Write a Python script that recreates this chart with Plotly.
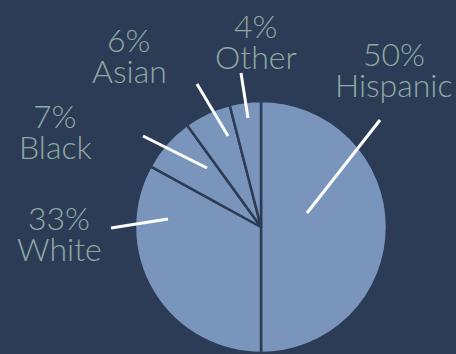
import plotly.graph_objects as go

# Population share by group, in clockwise order starting at 12 o'clock
groups = ["Hispanic", "White", "Black", "Asian", "Other"]
shares = [50, 33, 7, 6, 4]

W, H = 456, 354
BG = "#2d3c56"
SLICE = "#7a95bb"
TEXT = "#8eaaa4"


def px(x):
    return x / W


def py(y):
    return 1 - y / H


# Label placement (pixel centre x, baseline of the percent line) and leader lines
label_pos = {
    "Hispanic": (394, 66),
    "White": (59, 230),
    "Black": (55, 128),
    "Asian": (129, 52),
    "Other": (256, 38),
}
leaders = {
    "Hispanic": ((307, 213), (380, 120)),
    "White": ((111, 228), (168, 219)),
    "Black": ((143, 136), (207, 168)),
    "Asian": ((197, 84), (228, 136)),
    "Other": ((241, 73), (248, 118)),
}

cx, cy, r = 261, 227, 126

fig = go.Figure(
    go.Pie(
        labels=groups,
        values=shares,
        sort=False,
        direction="clockwise",
        rotation=0,
        textinfo="none",
        hoverinfo="label+percent",
        marker=dict(colors=[SLICE] * len(groups), line=dict(color=BG, width=2.5)),
        domain=dict(x=[px(cx - r), px(cx + r)], y=[py(cy + r), py(cy - r)]),
        showlegend=False,
    )
)

FONT_SIZE = 32
LINE_GAP = 31
annotations = []
shapes = []
for g, v in zip(groups, shares):
    x, base = label_pos[g]
    for txt, b in ((f"{v}%", base), (g, base + LINE_GAP)):
        annotations.append(
            dict(
                x=px(x), y=py(b), xref="paper", yref="paper",
                text=txt, showarrow=False,
                xanchor="center", yanchor="bottom",
                yshift=-FONT_SIZE * 0.27,
                font=dict(family="Lato, Roboto, sans-serif", size=FONT_SIZE,
                          color=TEXT, weight=300),
            )
        )
    (x0, y0), (x1, y1) = leaders[g]
    shapes.append(
        dict(
            type="line", xref="paper", yref="paper",
            x0=px(x0), y0=py(y0), x1=px(x1), y1=py(y1),
            line=dict(color="white", width=3),
        )
    )

fig.update_layout(
    width=W, height=H,
    margin=dict(l=0, r=0, t=0, b=0),
    paper_bgcolor=BG, plot_bgcolor=BG,
    annotations=annotations,
    shapes=shapes,
)

fig.write_html("out.html")
